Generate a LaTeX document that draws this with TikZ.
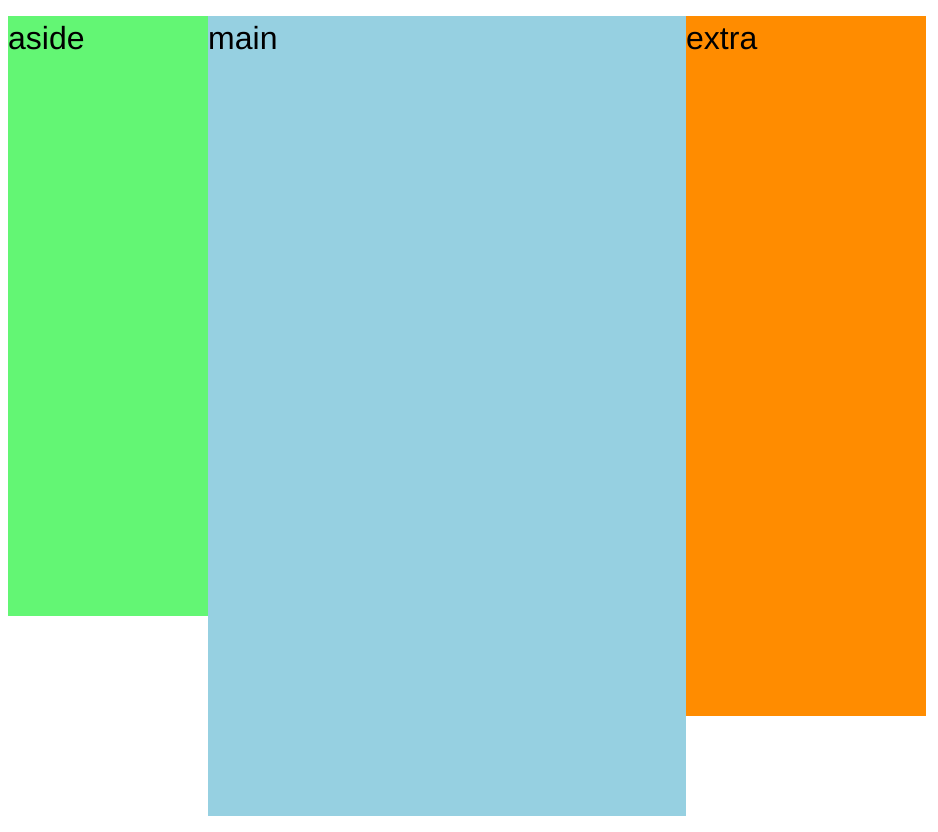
\documentclass[tikz,border=0pt]{standalone}
\usepackage{fontspec}
\setmainfont{Liberation Sans}
\definecolor{asidecol}{HTML}{63F674}
\definecolor{maincol}{HTML}{96D0E1}
\definecolor{extracol}{HTML}{FF8C00}
\begin{document}
\begin{tikzpicture}[x=1pt,y=-1pt,
  lbl/.style={anchor=base west,inner sep=0pt,font=\fontsize{32}{38}\selectfont}]
\useasboundingbox (0,0) rectangle (938,832);
\fill[asidecol] (8,16) rectangle (208,616);
\fill[maincol] (208,16) rectangle (686,816);
\fill[extracol] (686,16) rectangle (926,716);
\node[lbl] (aside) at (8,49.5) {aside};
\node[lbl] (main) at (208,49.5) {main};
\node[lbl] (extra) at (686,49.5) {extra};
\end{tikzpicture}
\end{document}
